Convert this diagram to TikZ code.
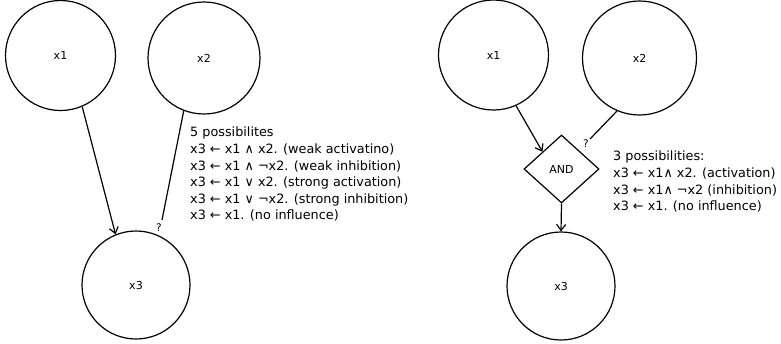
\documentclass[tikz,border=0pt]{standalone}
\usepackage{fontspec}
\setmainfont{DejaVu Sans}
\usetikzlibrary{shapes.geometric,arrows.meta}

\tikzset{
  var/.style={circle,draw,line width=1.2pt,minimum size=110pt,inner sep=0pt,font=\fontsize{11}{12}\selectfont},
  gate/.style={diamond,draw,line width=1.2pt,minimum width=75pt,minimum height=68pt,inner sep=0pt,font=\fontsize{11}{12}\selectfont},
  arr/.style={line width=1.2pt,-{Straight Barb[length=6pt,width=9pt,line width=1.2pt]}},
  con/.style={line width=1.2pt},
  rules/.style={anchor=north west,align=left,inner sep=0pt,font=\fontsize{12.8}{16.6}\selectfont},
  qm/.style={inner sep=0pt,font=\fontsize{10.5}{11}\selectfont}
}

\begin{document}
\begin{tikzpicture}[x=1pt,y=-1pt]
    \useasboundingbox (0,0) rectangle (781,343);

    % left: direct influence
    \node[var] (x1) at (60.5,55.5) {x1};
    \node[var,minimum size=112pt] (x2) at (204,58) {x2};
    \node[var,minimum size=108pt] (x3) at (136,285) {x3};

    \draw[arr] (x1.-67) -- (x3.112);
    \coordinate (e1) at (162,220);
    \draw[con] (x2.-111) -- (e1);
    \node[qm] (q1) at (159,228) {?};

    \node[rules] (r1) at (190,127) {5 possibilites\\
        x3 ← x1 ∧ x2. (weak activatino)\\
        x3 ← x1 ∧ ¬x2. (weak inhibition)\\
        x3 ← x1 ∨ x2. (strong activation)\\
        x3 ← x1 ∨ ¬x2. (strong inhibition)\\
        x3 ← x1. (no influence)};

    % right: through a gate
    \node[var] (y1) at (493.5,55) {x1};
    \node[var,minimum size=114pt] (y2) at (639.5,58) {x2};
    \node[gate] (and) at (561.5,169) {AND};
    \node[var,minimum size=108pt] (y3) at (561,286) {x3};

    \draw[arr] (y1.-66) -- (and.north west);
    \coordinate (e2) at (590,139);
    \draw[con] (y2.-113) -- (e2);
    \node[qm] (q2) at (586,144) {?};
    \draw[arr] (and.south) -- (y3.north);

    \node[rules] (r2) at (613,151) {3 possibilities:\\
        x3 ← x1∧ x2. (activation)\\
        x3 ← x1∧ ¬x2 (inhibition)\\
        x3 ← x1. (no influence)};
\end{tikzpicture}
\end{document}
